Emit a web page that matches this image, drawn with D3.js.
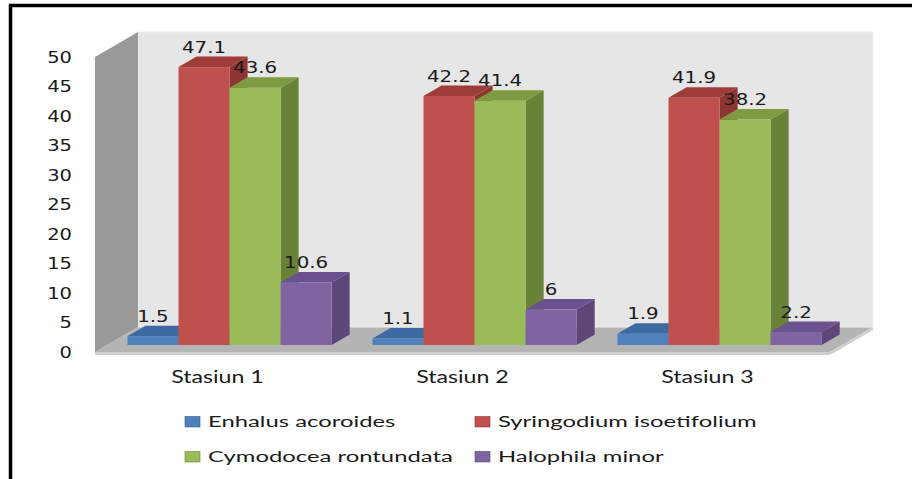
<!DOCTYPE html>
<html>
<head>
<meta charset="utf-8">
<script src="https://cdn.jsdelivr.net/npm/d3@7/dist/d3.min.js"></script>
<style>
  body { margin: 0; background: #fff; }
  svg { display: block; }
</style>
</head>
<body>
<svg id="chart" width="912" height="479"></svg>
<script>
// Seagrass cover per station
const categories = ["Stasiun 1", "Stasiun 2", "Stasiun 3"];
const series = ["Enhalus acoroides", "Syringodium isoetifolium", "Cymodocea rontundata", "Halophila minor"];
const enhalus     = [1.5, 1.1, 1.9];
const syringodium = [47.1, 42.2, 41.9];
const cymodocea   = [43.6, 41.4, 38.2];
const halophila   = [10.6, 6, 2.2];
const yTicks = [0, 5, 10, 15, 20, 25, 30, 35, 40, 45, 50];

const seriesValues = [enhalus, syringodium, cymodocea, halophila];
const palette = [
  { front: "#4F81BD", top: "#3D6AA2", side: "#36598A" },
  { front: "#C0504D", top: "#9E3C3A", side: "#8E3432" },
  { front: "#9BBB59", top: "#7E9A43", side: "#6A8238" },
  { front: "#8064A2", top: "#6A5190", side: "#5C4778" }
];

const svg = d3.select("#chart");

// Outer frame
svg.append("path")
  .attr("d", "M10.5,500 L10.5,5.5 L930,5.5")
  .attr("fill", "none").attr("stroke", "#000").attr("stroke-width", 3.5);

// Front plane of the 3D box and its depth vector
const x = d3.scaleBand().domain(categories).range([95, 830]);
const xs = d3.scaleBand().domain(series).range([0, x.bandwidth()]).paddingOuter(0.4).paddingInner(0);
const y = d3.scaleLinear().domain([0, 50]).range([352, 57]);
const depth = { dx: 43, dy: -25 };
const barZ = [0.28, 0.70];

const proj = (px, v, z) => [px + depth.dx * z, y(v) + depth.dy * z];
const poly = pts => "M" + pts.map(p => p.join(",")).join("L") + "Z";

const [x0, x1] = x.range();
const [vMin, vMax] = y.domain();

// Walls and floor
const walls = svg.append("g");
walls.append("path")
  .attr("d", poly([proj(x0, vMin, 0), proj(x0, vMin, 1), proj(x1, vMin, 1), proj(x1, vMin, 0)]))
  .attr("fill", "#b4b4b4");
walls.append("path")
  .attr("d", poly([proj(x0, vMin, 0), proj(x1, vMin, 0), [x1, y(vMin) + 3], [x0, y(vMin) + 3]]))
  .attr("fill", "#cfcfcf");
walls.append("path")
  .attr("d", poly([proj(x1, vMin, 0), proj(x1, vMin, 1), [x1 + depth.dx, y(vMin) + depth.dy + 3], [x1, y(vMin) + 3]]))
  .attr("fill", "#cfcfcf");
walls.append("path")
  .attr("d", poly([proj(x0, vMax, 1), proj(x1, vMax, 1), proj(x1, vMin, 1), proj(x0, vMin, 1)]))
  .attr("fill", "#e6e6e6").attr("stroke", "#ededed").attr("stroke-width", 1);
walls.append("path")
  .attr("d", poly([proj(x0, vMax, 0), proj(x0, vMax, 1), proj(x0, vMin, 1), proj(x0, vMin, 0)]))
  .attr("fill", "#999999");

// Value axis labels
const axisFont = "'DejaVu Sans', Verdana, sans-serif";
svg.append("g").selectAll("text").data(yTicks).join("text")
  .attr("transform", d => `translate(72,${y(d)}) scale(1.22,1)`)
  .attr("text-anchor", "end").attr("dominant-baseline", "central")
  .attr("font-family", axisFont).attr("font-size", 16).attr("fill", "#1a1a1a")
  .text(d => d);

// 3D bars, drawn left to right so later bars cover earlier side faces
const bars = [];
categories.forEach((c, ci) => {
  series.forEach((s, si) => {
    bars.push({ c, s, si, v: seriesValues[si][ci] });
  });
});

const barG = svg.append("g");
bars.forEach(b => {
  const bl = x(b.c) + xs(b.s);
  const br = bl + xs.bandwidth();
  const col = palette[b.si];
  const g = barG.append("g");
  // right side
  g.append("path")
    .attr("d", poly([proj(br, 0, barZ[0]), proj(br, b.v, barZ[0]), proj(br, b.v, barZ[1]), proj(br, 0, barZ[1])]))
    .attr("fill", col.side);
  // top
  g.append("path")
    .attr("d", poly([proj(bl, b.v, barZ[0]), proj(bl, b.v, barZ[1]), proj(br, b.v, barZ[1]), proj(br, b.v, barZ[0])]))
    .attr("fill", col.top);
  // front
  const fl = proj(bl, b.v, barZ[0]);
  const fb = proj(br, 0, barZ[0]);
  g.append("rect")
    .attr("x", fl[0]).attr("y", fl[1])
    .attr("width", fb[0] - fl[0]).attr("height", fb[1] - fl[1])
    .attr("fill", col.front);
});

// Data labels
svg.append("g").selectAll("text").data(bars).join("text")
  .attr("transform", b => {
    const bl = x(b.c) + xs(b.s);
    const cx = proj(bl + xs.bandwidth() / 2, b.v, barZ[0])[0];
    const ty = proj(bl, b.v, barZ[1])[1] - 4;
    return `translate(${cx},${ty}) scale(1.32,1)`;
  })
  .attr("text-anchor", "middle")
  .attr("font-family", axisFont).attr("font-size", 15).attr("fill", "#1a1a1a")
  .text(b => b.v);

// Category labels
const labelFont = "Lato, 'Open Sans', sans-serif";
svg.append("g").selectAll("text").data(categories).join("text")
  .attr("transform", c => `translate(${x(c) + x.bandwidth() / 2},383) scale(1.42,1)`)
  .attr("text-anchor", "middle")
  .attr("font-family", labelFont).attr("font-size", 16.3).attr("fill", "#1a1a1a")
  .text(c => c);

// Legend
const legendCols = [185, 475];
const legendRows = [427, 462];
const legend = svg.append("g").selectAll("g").data(series).join("g")
  .attr("transform", (s, i) => `translate(${legendCols[i % 2]},${legendRows[Math.floor(i / 2)]})`);
legend.append("rect")
  .attr("x", 0).attr("y", -10.5).attr("width", 15).attr("height", 10.5)
  .attr("fill", (s, i) => palette[i].front)
  .attr("stroke", (s, i) => palette[i].side).attr("stroke-width", 0.6);
legend.append("text")
  .attr("transform", "translate(23,0) scale(1.49,1)")
  .attr("font-family", labelFont).attr("font-size", 16).attr("fill", "#1a1a1a")
  .text(s => s);
</script>
</body>
</html>
